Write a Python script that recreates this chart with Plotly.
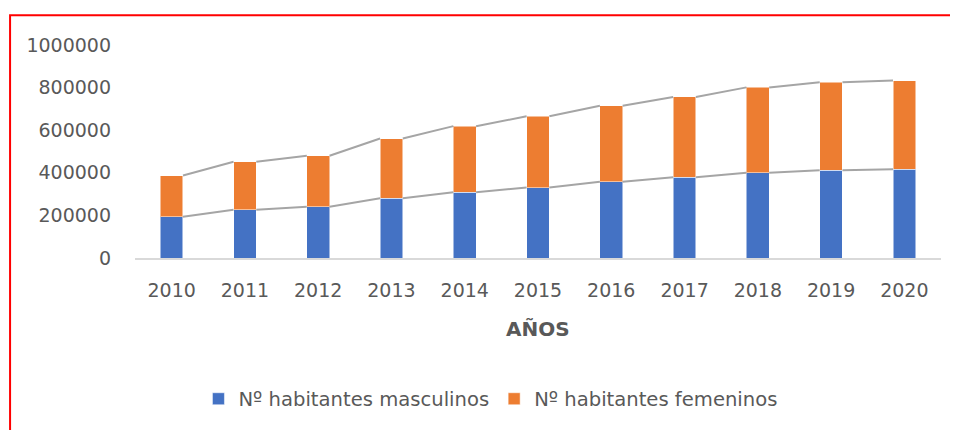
import numpy as np
import plotly.graph_objects as go

years = ["2010", "2011", "2012", "2013", "2014", "2015", "2016", "2017", "2018", "2019", "2020"]
masculinos = [194000, 226000, 241000, 280000, 309000, 331000, 358000, 379000, 400000, 412000, 417000]
femeninos = [193000, 226000, 239000, 281000, 310000, 334000, 357000, 377000, 401000, 413000, 416000]

x = np.arange(len(years))
bw = 0.31
font = "DejaVu Sans"
grey = "#595959"

fig = go.Figure()

# series lines (Excel style) connecting bar edges
def series_line(tops):
    xs, ys = [], []
    for i in range(len(tops) - 1):
        xs += [x[i] + bw / 2, x[i + 1] - bw / 2, None]
        ys += [tops[i], tops[i + 1], None]
    return xs, ys

m = np.array(masculinos)
f = np.array(femeninos)
for tops in (m, m + f):
    xs, ys = series_line(tops)
    fig.add_trace(go.Scatter(x=xs, y=ys, mode="lines", line=dict(color="#A5A5A5", width=2),
                             showlegend=False, hoverinfo="skip"))

fig.add_trace(go.Bar(x=x, y=masculinos, name="Nº habitantes masculinos", width=bw,
                     marker=dict(color="#4472C4", line=dict(color="rgba(255,255,255,0.5)", width=1))))
fig.add_trace(go.Bar(x=x, y=femeninos, name="Nº habitantes femeninos", width=bw,
                     marker=dict(color="#ED7D31", line=dict(color="rgba(255,255,255,0.5)", width=1))))

fig.update_layout(
    barmode="stack",
    width=950, height=422,
    margin=dict(l=127, r=17, t=37, b=165),
    paper_bgcolor="white", plot_bgcolor="white",
    font=dict(family=font, size=19, color=grey),
    showlegend=True,
    legend=dict(orientation="h", traceorder="normal", x=0.441, xanchor="center", y=-0.662,
                yanchor="middle", font=dict(family=font, size=19.6, color=grey), itemclick=False),
    xaxis=dict(tickmode="array", tickvals=x, ticktext=years, range=[-0.5, len(years) - 0.5],
               showgrid=False, zeroline=False, showline=True, linecolor="#D9D9D9", linewidth=2,
               ticks="", ticklabelstandoff=14, tickfont=dict(family=font, size=19, color=grey)),
    yaxis=dict(range=[0, 1000000], tickvals=[0, 200000, 400000, 600000, 800000, 1000000],
               tickformat="d", showgrid=False, zeroline=False, showline=False, ticks="",
               ticklabelstandoff=23, tickfont=dict(family=font, size=19, color=grey)),
    annotations=[dict(text="<b>AÑOS</b>", x=0.5, y=-0.333, xref="paper", yref="paper",
                      xanchor="center", yanchor="middle", showarrow=False,
                      font=dict(family=font, size=20, color=grey))],
    shapes=[dict(type="rect", xref="paper", yref="paper", x0=-0.155, x1=1.05, y0=-1.0, y1=1.140,
                 line=dict(color="#FF0000", width=2), fillcolor="rgba(0,0,0,0)", layer="below")],
)

fig.write_html("out.html")
